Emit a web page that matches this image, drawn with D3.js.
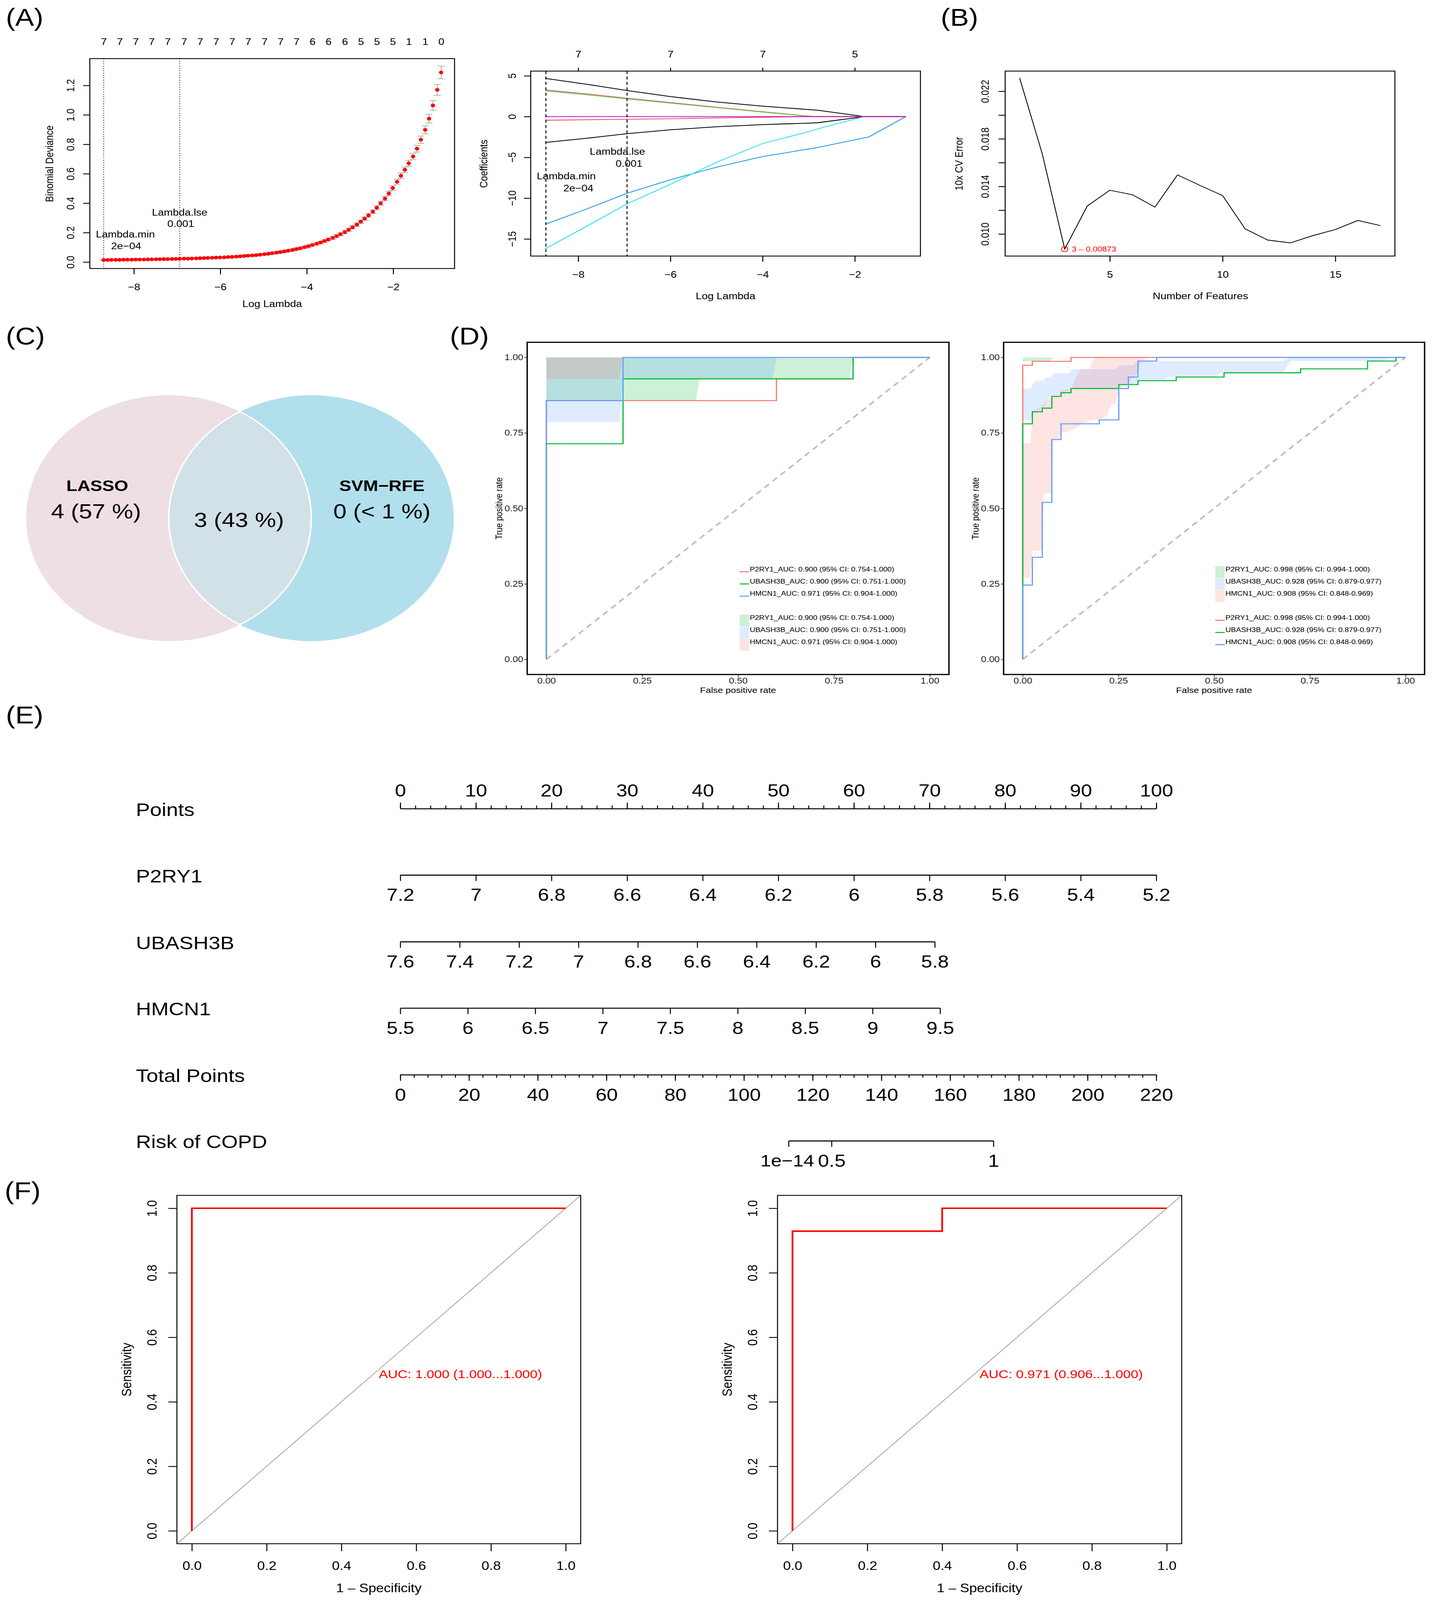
<!DOCTYPE html>
<html>
<head>
<meta charset="utf-8">
<script src="https://cdn.jsdelivr.net/npm/d3@7"></script>
<style>
  html, body { margin: 0; padding: 0; background: #fff; overflow: hidden; }
  svg { display: block; }
</style>
</head>
<body>
<script>
// ---------------- data ----------------
// (A) cv.glmnet curve
const cvLogLambda = [-8.70,-8.61,-8.52,-8.42,-8.33,-8.24,-8.15,-8.05,-7.96,-7.87,-7.77,-7.68,-7.59,-7.49,-7.40,-7.31,-7.22,-7.12,-7.03,-6.94,
  -6.84,-6.75,-6.66,-6.56,-6.47,-6.38,-6.29,-6.19,-6.10,-6.01,-5.91,-5.82,-5.73,-5.63,-5.54,-5.45,-5.36,-5.26,-5.17,-5.08,
  -4.98,-4.89,-4.80,-4.70,-4.61,-4.52,-4.43,-4.33,-4.24,-4.15,-4.05,-3.96,-3.87,-3.77,-3.68,-3.59,-3.50,-3.40,-3.31,-3.22,
  -3.12,-3.03,-2.94,-2.84,-2.75,-2.66,-2.57,-2.47,-2.38,-2.29,-2.19,-2.10,-2.01,-1.91,-1.82,-1.73,-1.64,-1.54,-1.45,-1.36,
  -1.26,-1.17,-1.08,-0.98,-0.89];
const cvDeviance = [0.014,0.014,0.015,0.015,0.015,0.016,0.016,0.016,0.017,0.017,0.017,0.018,0.018,0.019,0.019,0.020,0.020,0.021,0.021,0.022,
  0.023,0.023,0.024,0.025,0.026,0.027,0.028,0.029,0.030,0.031,0.032,0.034,0.035,0.037,0.039,0.041,0.043,0.045,0.047,0.050,
  0.053,0.056,0.060,0.064,0.068,0.072,0.077,0.082,0.088,0.094,0.101,0.108,0.116,0.124,0.133,0.143,0.153,0.164,0.176,0.189,
  0.203,0.219,0.236,0.254,0.274,0.295,0.317,0.342,0.369,0.399,0.431,0.466,0.503,0.545,0.586,0.627,0.671,0.717,0.770,0.831,
  0.898,0.974,1.064,1.170,1.288];
const cvSE = [0.004,0.004,0.004,0.004,0.004,0.004,0.004,0.004,0.004,0.004,0.004,0.004,0.004,0.004,0.004,0.004,0.004,0.004,0.004,0.004,
  0.004,0.004,0.004,0.004,0.004,0.004,0.004,0.004,0.004,0.005,0.005,0.005,0.005,0.005,0.005,0.005,0.006,0.006,0.006,0.006,
  0.006,0.006,0.007,0.007,0.007,0.007,0.007,0.008,0.008,0.008,0.008,0.008,0.009,0.009,0.009,0.009,0.010,0.010,0.010,0.010,
  0.011,0.011,0.011,0.012,0.012,0.012,0.013,0.013,0.014,0.014,0.015,0.015,0.016,0.017,0.018,0.019,0.020,0.021,0.023,0.025,
  0.027,0.030,0.033,0.037,0.043];
const cvNonZero = ["7","7","7","7","7","7","7","7","7","7","7","7","7","6","6","6","5","5","5","1","1","0"];
const lambdaMinLog = -8.70, lambdaLseLog = -6.94;

// (A) coefficient paths
const pathLogLambda = [-8.71, -7.8, -6.94, -6, -5, -4, -3, -2.8, -1.79, -1.7, -0.89];
const coefPaths = [
  { color: "#000000", values: [4.68, 3.95, 3.2, 2.45, 1.8, 1.28, 0.86, 0.78, 0, 0, 0] },
  { color: "#DF536B", values: [3.27, 2.77, 2.25, 1.72, 1.15, 0.6, 0.06, 0, 0, 0, 0] },
  { color: "#61D04F", values: [3.15, 2.67, 2.17, 1.65, 1.1, 0.55, 0.03, 0, 0, 0, 0] },
  { color: "#000000", values: [-3.17, -2.65, -2.1, -1.62, -1.25, -0.98, -0.8, -0.75, 0, 0, 0] },
  { color: "#2297E6", values: [-13.2, -11.3, -9.4, -7.75, -6.2, -4.9, -3.97, -3.78, -2.6, -2.5, 0] },
  { color: "#28E2E5", values: [-16.2, -13.4, -10.7, -8.3, -5.6, -3.3, -1.85, -1.5, 0, 0, 0] },
  { color: "#DF536B", values: [-0.45, -0.38, -0.32, -0.26, -0.17, -0.08, 0, 0, 0, 0, 0] },
  { color: "#CD0BBC", values: [0, 0, 0, 0, 0, 0, 0, 0, 0, 0, 0] }
];
const pathTopTicks = [-8, -6, -4, -2];
const pathTopLabels = ["7", "7", "7", "5"];

// (B) SVM-RFE
const rfeFeatures = [1,2,3,4,5,6,7,8,9,10,11,12,13,14,15,16,17];
const rfeError = [0.02312,0.01677,0.00873,0.01235,0.01368,0.01330,0.01226,0.01497,0.01408,0.01323,0.01043,0.00949,0.00925,0.00986,0.01037,0.01114,0.01070];

// (C) Venn
const vennSets = ["LASSO", "SVM\u2212RFE"];
const vennCounts = ["4 (57 %)", "3 (43 %)", "0 (< 1 %)"];

// (D) ROC with CI
const genes = ["P2RY1", "UBASH3B", "HMCN1"];
const lineColors = ["#F8766D", "#00BA38", "#619CFF"];
const fillColors = ["#00BA38", "#619CFF", "#F8766D"];
const trainLabels = ["P2RY1_AUC: 0.900 (95% CI: 0.754-1.000)", "UBASH3B_AUC: 0.900 (95% CI: 0.751-1.000)", "HMCN1_AUC: 0.971 (95% CI: 0.904-1.000)"];
const testLabels = ["P2RY1_AUC: 0.998 (95% CI: 0.994-1.000)", "UBASH3B_AUC: 0.928 (95% CI: 0.879-0.977)", "HMCN1_AUC: 0.908 (95% CI: 0.848-0.969)"];

const trainRoc = [
  { fpr: [0,0,0.6,0.6,0.8,0.8,1], tpr: [0,0.857,0.857,0.929,0.929,1,1] },
  { fpr: [0,0,0.2,0.2,0.8,0.8,1], tpr: [0,0.714,0.714,0.929,0.929,1,1] },
  { fpr: [0,0,0.2,0.2,1], tpr: [0,0.857,0.857,1,1] }
];
const trainCI = [
  { fpr: [0,0.39,0.40,0.79,0.80,1], lo: [0.857,0.857,0.929,0.929,1,1], hi: [1,1,1,1,1,1] },
  { fpr: [0,0.19,0.20,0.59,0.60,1], lo: [0.786,0.786,0.929,0.929,1,1], hi: [1,1,1,1,1,1] },
  { fpr: [0,0.19,0.20,1], lo: [0.929,0.929,1,1], hi: [1,1,1,1] }
];
const testRoc = [
  { fpr: [0,0,0.025,0.025,0.126,0.126,1], tpr: [0,0.974,0.974,0.987,0.987,1,1] },
  { fpr: [0,0,0.025,0.025,0.051,0.051,0.076,0.076,0.1,0.1,0.126,0.126,0.251,0.251,0.301,0.301,0.401,0.401,0.526,0.526,0.726,0.726,0.901,0.901,0.975,0.975,1],
    tpr: [0,0.78,0.78,0.82,0.82,0.832,0.832,0.871,0.871,0.883,0.883,0.897,0.897,0.91,0.91,0.923,0.923,0.935,0.935,0.949,0.949,0.962,0.962,0.988,0.988,1,1] },
  { fpr: [0,0,0.025,0.025,0.051,0.051,0.076,0.076,0.1,0.1,0.2,0.2,0.251,0.251,0.276,0.276,0.301,0.301,0.35,0.35,1],
    tpr: [0,0.246,0.246,0.338,0.338,0.52,0.52,0.728,0.728,0.78,0.78,0.793,0.793,0.897,0.897,0.935,0.935,0.988,0.988,1,1] }
];
const testCI = [
  { fpr: [0,0.07,0.08,1], lo: [0.987,0.987,1,1], hi: [1,1,1,1] },
  { fpr: [0,0.02,0.032,0.052,0.062,0.072,0.085,0.12,0.13,0.242,0.255,0.29,0.30,0.37,0.38,0.5,0.52,0.68,0.70,0.94,0.96,1],
    lo: [0.793,0.793,0.82,0.832,0.85,0.87,0.875,0.89,0.897,0.897,0.91,0.91,0.923,0.923,0.936,0.936,0.949,0.949,0.988,0.988,1,1],
    hi: [0.897,0.897,0.922,0.922,0.934,0.934,0.948,0.948,0.961,0.961,0.974,0.974,0.988,0.988,0.988,0.988,0.988,0.988,1,1,1,1] },
  { fpr: [0,0.02,0.025,0.05,0.055,0.075,0.08,0.093,0.101,0.12,0.127,0.141,0.151,0.175,0.178,0.19,0.202,0.219,0.232,0.242,0.253,0.273,0.28,0.30,0.31,0.33,1],
    lo: [0.27,0.27,0.36,0.36,0.55,0.55,0.73,0.73,0.754,0.754,0.76,0.767,0.778,0.79,0.793,0.793,0.793,0.806,0.845,0.845,0.897,0.91,0.923,0.948,0.988,1,1],
    hi: [0.715,0.715,0.82,0.84,0.845,0.87,0.872,0.88,0.89,0.895,0.897,0.94,0.961,0.961,0.975,1,1,1,1,1,1,1,1,1,1,1,1] }
];

// (E) nomogram
const nomoPointTicks = [0,10,20,30,40,50,60,70,80,90,100];
const nomoPointMinor = [0,2,4,6,8,10,12,14,16,18,20,22,24,26,28,30,32,34,36,38,40,42,44,46,48,50,52,54,56,58,60,62,64,66,68,70,72,74,76,78,80,82,84,86,88,90,92,94,96,98,100];
const nomoVars = [
  { name: "P2RY1",   range: [7.2, 5.2], maxPoints: 100,  ticks: [7.2,7,6.8,6.6,6.4,6.2,6,5.8,5.6,5.4,5.2] },
  { name: "UBASH3B", range: [7.6, 5.8], maxPoints: 70.7, ticks: [7.6,7.4,7.2,7,6.8,6.6,6.4,6.2,6,5.8] },
  { name: "HMCN1",   range: [5.5, 9.5], maxPoints: 71.4, ticks: [5.5,6,6.5,7,7.5,8,8.5,9,9.5] }
];
const totalTicks = [0,20,40,60,80,100,120,140,160,180,200,220];
const totalMinor = [0,4,8,12,16,20,24,28,32,36,40,44,48,52,56,60,64,68,72,76,80,84,88,92,96,100,104,108,112,116,120,124,128,132,136,140,144,148,152,156,160,164,168,172,176,180,184,188,192,196,200,204,208,212,216,220];
const riskLabels = ["1e\u221214", "0.5", "1"];
const riskTotalPoints = [113, 125.5, 172.6];

// (F) final ROC
const finalRoc = [
  { fpr: [0,0,1], tpr: [0,1,1], label: "AUC: 1.000 (1.000...1.000)" },
  { fpr: [0,0,0.4,0.4,1], tpr: [0,0.929,0.929,1,1], label: "AUC: 0.971 (0.906...1.000)" }
];

// ---------------- drawing ----------------
const FONT = '"Liberation Sans", Arial, Helvetica, sans-serif';
const W = 3667, H = 4749;
// the capture viewport can be shorter than the figure: fit the whole figure into it
const VW = window.innerWidth || W, VH = window.innerHeight || H;

const svg = d3.select("body").append("svg")
  .attr("width", VW).attr("height", VH)
  .attr("viewBox", `0 0 ${W} ${H}`)
  .attr("preserveAspectRatio", "none")
  .attr("font-family", FONT);
svg.append("rect").attr("width", W).attr("height", H).attr("fill", "#fff");

function txt(g, x, y, s, fs, o = {}) {
  return g.append("text")
    .attr("x", x).attr("y", y).attr("dy", o.dy || "0.35em")
    .attr("font-size", fs)
    .attr("text-anchor", o.anchor || "middle")
    .attr("font-weight", o.weight || null)
    .attr("fill", o.fill || "#000")
    .attr("transform", o.rotate ? `rotate(-90,${x},${y})` : null)
    .text(s);
}

function box(g, x0, y0, x1, y1, sw = 2.5, col = "#000") {
  g.append("rect").attr("x", x0).attr("y", y0).attr("width", x1 - x0).attr("height", y1 - y0)
    .attr("fill", "none").attr("stroke", col).attr("stroke-width", sw);
}

// base-R like axes
function rAxisBottom(g, scale, ticks, y, fs, fmt, labelOff, tl = 17) {
  const ax = g.append("g").attr("transform", `translate(0,${y})`)
    .call(d3.axisBottom(scale).tickValues(ticks).tickSize(tl).tickSizeOuter(0)
      .tickPadding(labelOff - tl - 0.35 * fs).tickFormat(fmt));
  ax.select(".domain").remove();
  ax.selectAll(".tick line").attr("stroke", "#000").attr("stroke-width", 2.5);
  ax.selectAll(".tick text").attr("font-size", fs).attr("font-family", FONT).attr("fill", "#000");
  return ax;
}
function rAxisLeft(g, scale, ticks, x, fs, fmt, labelOff, tl = 17) {
  const ax = g.append("g").attr("transform", `translate(${x},0)`)
    .call(d3.axisLeft(scale).tickValues(ticks).tickSize(tl).tickSizeOuter(0).tickFormat(fmt));
  ax.select(".domain").remove();
  ax.selectAll(".tick line").attr("stroke", "#000").attr("stroke-width", 2.5);
  ax.selectAll(".tick text")
    .attr("x", null).attr("dy", null).attr("text-anchor", "middle")
    .attr("transform", `translate(${-labelOff + 0.35 * fs},0) rotate(-90)`)
    .attr("font-size", fs).attr("font-family", FONT).attr("fill", "#000");
  return ax;
}

// panel letters
[["(A)", 15, 76], ["(B)", 2409, 76], ["(C)", 15, 1023], ["(D)", 1152, 1023], ["(E)", 15, 2147], ["(F)", 12, 3560]]
  .forEach(([s, x, y]) => txt(svg, x, y, s, 72, { anchor: "start", dy: "0" }));

// ===== (A) left: cross-validation curve =====
{
  const g = svg.append("g");
  const x = d3.scaleLinear().domain([-9.02, -0.58]).range([230, 1164]);
  const y = d3.scaleLinear().domain([-0.044, 1.382]).range([797, 174]);
  const fs = 27.5;

  rAxisBottom(g, x, [-8, -6, -4, -2], 797, fs, d3.format("d"), 54);
  rAxisLeft(g, y, [0, 0.2, 0.4, 0.6, 0.8, 1.0, 1.2], 230, fs, d3.format(".1f"), 50);

  // number of nonzero coefficients along the top
  const topPos = cvNonZero.map((d, i) => cvLogLambda[i * 4]);
  const top = g.append("g").attr("transform", "translate(0,174)")
    .call(d3.axisTop(x).tickValues(topPos).tickSize(0).tickPadding(174 - 123 - 0.36 * fs)
      .tickFormat((d, i) => cvNonZero[i]));
  top.select(".domain").remove();
  top.selectAll("text").attr("font-size", fs).attr("font-family", FONT).attr("fill", "#000");

  [lambdaMinLog, lambdaLseLog].forEach(v => {
    g.append("line").attr("x1", x(v)).attr("x2", x(v)).attr("y1", 174).attr("y2", 797)
      .attr("stroke", "#000").attr("stroke-width", 2.2).attr("stroke-dasharray", "2,5");
  });

  const pts = cvLogLambda.map((l, i) => ({ l, d: cvDeviance[i], se: cvSE[i] }));
  const eb = g.append("g").attr("stroke", "#A9A9A9").attr("stroke-width", 2);
  pts.forEach(p => {
    const xx = x(p.l);
    eb.append("line").attr("x1", xx).attr("x2", xx).attr("y1", y(p.d - p.se)).attr("y2", y(p.d + p.se));
    eb.append("line").attr("x1", xx - 9).attr("x2", xx + 9).attr("y1", y(p.d - p.se)).attr("y2", y(p.d - p.se));
    eb.append("line").attr("x1", xx - 9).attr("x2", xx + 9).attr("y1", y(p.d + p.se)).attr("y2", y(p.d + p.se));
  });
  g.append("g").selectAll("circle").data(pts).join("circle")
    .attr("cx", d => x(d.l)).attr("cy", d => y(d.d)).attr("r", 5.5).attr("fill", "#FF0000");

  txt(g, 321, 695, "Lambda.min", fs);
  txt(g, 323, 730, "2e\u221204", fs);
  txt(g, 460, 630, "Lambda.lse", fs);
  txt(g, 463, 664, "0.001", fs);

  box(g, 230, 174, 1164, 797);
  txt(g, 697, 902, "Log Lambda", fs);
  txt(g, 126, 486, "Binomial Deviance", fs, { rotate: true });
}

// ===== (A) middle: coefficient paths =====
{
  const g = svg.append("g");
  const x = d3.scaleLinear().domain([-9.03, -0.576]).range([1359, 2357]);
  const y = d3.scaleLinear().domain([-17.1, 5.58]).range([760, 211]);
  const fs = 27.5;

  rAxisBottom(g, x, [-8, -6, -4, -2], 760, fs, d3.format("d"), 54);
  rAxisLeft(g, y, [-15, -10, -5, 0, 5], 1359, fs, d3.format("d"), 48);

  const top = g.append("g").attr("transform", "translate(0,211)")
    .call(d3.axisTop(x).tickValues(pathTopTicks).tickSize(10).tickSizeOuter(0)
      .tickPadding(211 - 161 - 0.36 * fs - 10).tickFormat((d, i) => pathTopLabels[i]));
  top.select(".domain").remove();
  top.selectAll("line").attr("stroke", "#000").attr("stroke-width", 2.5);
  top.selectAll("text").attr("font-size", fs).attr("font-family", FONT).attr("fill", "#000");

  const line = d3.line().x((d, i) => x(pathLogLambda[i])).y(d => y(d));
  g.append("g").selectAll("path").data(coefPaths).join("path")
    .attr("d", d => line(d.values)).attr("fill", "none")
    .attr("stroke", d => d.color).attr("stroke-width", 2.4);

  [lambdaMinLog, lambdaLseLog].forEach(v => {
    g.append("line").attr("x1", x(v)).attr("x2", x(v)).attr("y1", 211).attr("y2", 760)
      .attr("stroke", "#000").attr("stroke-width", 2.4).attr("stroke-dasharray", "9,7");
  });

  txt(g, 1581, 450, "Lambda.lse", fs);
  txt(g, 1611, 486, "0.001", fs);
  txt(g, 1450, 523, "Lambda.min", fs);
  txt(g, 1481, 558, "2e\u221204", fs);

  box(g, 1359, 211, 2357, 760);
  txt(g, 1858, 878, "Log Lambda", fs);
  txt(g, 1238, 486, "Coefficients", fs, { rotate: true });
}

// ===== (B) SVM-RFE error =====
{
  const g = svg.append("g");
  const x = d3.scaleLinear().domain([0.36, 17.64]).range([2574, 3572]);
  const y = d3.scaleLinear().domain([0.008144, 0.023696]).range([760, 211]);
  const fs = 27.5;
  const labelled = [0.010, 0.014, 0.018, 0.022];

  rAxisBottom(g, x, [5, 10, 15], 760, fs, d3.format("d"), 54);
  rAxisLeft(g, y, [0.010, 0.012, 0.014, 0.016, 0.018, 0.020, 0.022], 2574, fs,
    d => labelled.some(v => Math.abs(v - d) < 1e-9) ? d3.format(".3f")(d) : "", 52);

  g.append("path").datum(rfeFeatures)
    .attr("d", d3.line().x(d => x(d)).y((d, i) => y(rfeError[i])))
    .attr("fill", "none").attr("stroke", "#000").attr("stroke-width", 2.2);

  const iMin = d3.minIndex(rfeError);
  g.append("circle").attr("cx", x(rfeFeatures[iMin])).attr("cy", y(rfeError[iMin])).attr("r", 8)
    .attr("fill", "none").attr("stroke", "#FF0000").attr("stroke-width", 2);
  txt(g, x(rfeFeatures[iMin]) + 18, y(rfeError[iMin]), `${rfeFeatures[iMin]} \u2013 ${rfeError[iMin]}`, 21.6,
    { anchor: "start", fill: "#FF0000" });

  box(g, 2574, 211, 3572, 760);
  txt(g, 3074, 878, "Number of Features", fs);
  txt(g, 2455, 486, "10x CV Error", fs, { rotate: true });
}

// ===== (C) Venn =====
{
  const g = svg.append("g");
  const r = 365, cy = 1538, cxL = 432, cxR = 797;
  const defs = svg.append("defs");
  defs.append("clipPath").attr("id", "clipL").append("circle").attr("cx", cxL).attr("cy", cy).attr("r", r);
  defs.append("clipPath").attr("id", "clipR").append("circle").attr("cx", cxR).attr("cy", cy).attr("r", r);

  g.append("circle").attr("cx", cxL).attr("cy", cy).attr("r", r).attr("fill", "#EDDFE4");
  g.append("circle").attr("cx", cxR).attr("cy", cy).attr("r", r).attr("fill", "#B2DFEC");
  g.append("circle").attr("cx", cxR).attr("cy", cy).attr("r", r).attr("fill", "#D2E0E8").attr("clip-path", "url(#clipL)");
  g.append("circle").attr("cx", cxR).attr("cy", cy).attr("r", r).attr("fill", "none")
    .attr("stroke", "#fff").attr("stroke-width", 4).attr("clip-path", "url(#clipL)");
  g.append("circle").attr("cx", cxL).attr("cy", cy).attr("r", r).attr("fill", "none")
    .attr("stroke", "#fff").attr("stroke-width", 4).attr("clip-path", "url(#clipR)");

  txt(g, 249, 1441, vennSets[0], 46, { weight: "bold" });
  txt(g, 246, 1517, vennCounts[0], 61);
  txt(g, 612, 1543, vennCounts[1], 61);
  txt(g, 978, 1441, vennSets[1], 46, { weight: "bold" });
  txt(g, 978, 1517, vennCounts[2], 61);
}

// ===== (D) ROC panels with CI ribbons =====
function rocPanel(x0, x1, rocs, cis, labels, fillsFirst, legendX) {
  const g = svg.append("g");
  const y0 = 2002, y1 = 1016;
  const x = d3.scaleLinear().domain([-0.05, 1.05]).range([x0, x1]);
  const y = d3.scaleLinear().domain([-0.05, 1.05]).range([y0, y1]);
  const fs = 24.6, col = "#333";

  const area = d3.area().x(d => x(d.f)).y0(d => y(d.lo)).y1(d => y(d.hi));
  cis.forEach((c, i) => {
    const pts = c.fpr.map((f, k) => ({ f, lo: c.lo[k], hi: c.hi[k] }));
    g.append("path").attr("d", area(pts)).attr("fill", fillColors[i]).attr("fill-opacity", 0.2);
  });

  g.append("line").attr("x1", x(0)).attr("y1", y(0)).attr("x2", x(1)).attr("y2", y(1))
    .attr("stroke", "#BEBEBE").attr("stroke-width", 4.5).attr("stroke-dasharray", "16,12");

  const line = d3.line().x(d => x(d[0])).y(d => y(d[1]));
  rocs.forEach((r, i) => {
    g.append("path").attr("d", line(r.fpr.map((f, k) => [f, r.tpr[k]])))
      .attr("fill", "none").attr("stroke", lineColors[i]).attr("stroke-width", 3);
  });

  // legend
  const rowH = 36.2;
  const lineTop = fillsFirst ? 1833 : 1689;
  const fillTop = fillsFirst ? 1689 : 1833;
  labels.forEach((s, i) => {
    const ly = lineTop + i * rowH;
    g.append("line").attr("x1", legendX).attr("x2", legendX + 24).attr("y1", ly + 8).attr("y2", ly + 8)
      .attr("stroke", lineColors[i]).attr("stroke-width", 3);
    txt(g, legendX + 26, ly, s, 19.5, { anchor: "start" });
    const fy = fillTop + i * rowH;
    g.append("rect").attr("x", legendX).attr("y", fy - 9).attr("width", 24).attr("height", rowH - 1)
      .attr("fill", fillColors[i]).attr("fill-opacity", 0.2);
    txt(g, legendX + 26, fy, s, 19.5, { anchor: "start" });
  });

  const ticks = [0, 0.25, 0.5, 0.75, 1];
  const ax = g.append("g").attr("transform", `translate(0,${y0})`)
    .call(d3.axisBottom(x).tickValues(ticks).tickSize(7).tickSizeOuter(0).tickPadding(3).tickFormat(d3.format(".2f")));
  const ay = g.append("g").attr("transform", `translate(${x0},0)`)
    .call(d3.axisLeft(y).tickValues(ticks).tickSize(7).tickSizeOuter(0).tickPadding(3).tickFormat(d3.format(".2f")));
  [ax, ay].forEach(a => {
    a.select(".domain").remove();
    a.selectAll("line").attr("stroke", col).attr("stroke-width", 2);
    a.selectAll("text").attr("font-size", fs).attr("font-family", FONT).attr("fill", "#222");
  });

  box(g, x0, y1, x1, y0, 3.5, "#000");
  txt(g, (x(0) + x(1)) / 2, 2048, "False positive rate", 24);
  txt(g, x0 - 72, (y0 + y1) / 2, "True positive rate", 24, { rotate: true });
}
rocPanel(1350, 2430, trainRoc, trainCI, trainLabels, false, 1894);
rocPanel(2570, 3648, testRoc, testCI, testLabels, true, 3112);

// ===== (E) nomogram =====
{
  const g = svg.append("g");
  const pts = d3.scaleLinear().domain([0, 100]).range([1025, 2961]);
  const total = d3.scaleLinear().domain([0, 220]).range([1025, 2961]);
  const lfs = 54, tfs = 51;
  const rows = [2400, 2597, 2795, 2992, 3190, 3386];

  function nomoAxis(y, scale, ticks, minor, fmt, up) {
    const mk = up ? d3.axisTop : d3.axisBottom;
    if (minor) {
      const m = g.append("g").attr("transform", `translate(0,${y})`)
        .call(mk(scale).tickValues(minor).tickSize(9).tickSizeOuter(0).tickFormat(""));
      m.select(".domain").remove();
      m.selectAll("line").attr("stroke", "#000").attr("stroke-width", 2.5);
    }
    const a = g.append("g").attr("transform", `translate(0,${y})`)
      .call(mk(scale).tickValues(ticks).tickSize(18).tickSizeOuter(0).tickPadding(up ? 18 : 23).tickFormat(fmt));
    a.select(".domain").attr("stroke", "#000").attr("stroke-width", 3);
    a.selectAll("line").attr("stroke", "#000").attr("stroke-width", 2.5);
    a.selectAll("text").attr("font-size", tfs).attr("font-family", FONT).attr("fill", "#000");
  }

  txt(g, 348, rows[0] + 3, "Points", lfs, { anchor: "start" });
  nomoAxis(rows[0], pts, nomoPointTicks, nomoPointMinor, d3.format("d"), true);

  nomoVars.forEach((v, i) => {
    const s = d3.scaleLinear().domain(v.range).range([pts(0), pts(v.maxPoints)]);
    txt(g, 348, rows[i + 1] + 3, v.name, lfs, { anchor: "start" });
    nomoAxis(rows[i + 1], s, v.ticks, null, d3.format("~g"), false);
  });

  txt(g, 348, rows[4] + 3, "Total Points", lfs, { anchor: "start" });
  nomoAxis(rows[4], total, totalTicks, totalMinor, d3.format("d"), false);

  const risk = d3.scaleLinear().domain([riskTotalPoints[0], riskTotalPoints[2]])
    .range([total(riskTotalPoints[0]), total(riskTotalPoints[2])]);
  txt(g, 348, rows[5] + 3, "Risk of COPD", lfs, { anchor: "start" });
  nomoAxis(rows[5], risk, riskTotalPoints, null, (d, i) => riskLabels[i], false);
  g.selectAll("text").filter(function () { return this.textContent === riskLabels[0]; })
    .attr("font-size", 49).attr("dx", -4);
}

// ===== (F) final ROC curves =====
function finalPanel(x0, x1, roc) {
  const g = svg.append("g");
  const y0 = 4582, y1 = 3548;
  const x = d3.scaleLinear().domain([-0.04, 1.04]).range([x0, x1]);
  const y = d3.scaleLinear().domain([-0.04, 1.04]).range([y0, y1]);
  const fs = 35.5;
  const ticks = [0, 0.2, 0.4, 0.6, 0.8, 1.0];

  rAxisBottom(g, x, ticks, y0, fs, d3.format(".1f"), 65, 22);
  rAxisLeft(g, y, ticks, x0, fs, d3.format(".1f"), 64, 22);

  g.append("line").attr("x1", x(-0.04)).attr("y1", y(-0.04)).attr("x2", x(1.04)).attr("y2", y(1.04))
    .attr("stroke", "#9E9E9E").attr("stroke-width", 2);

  g.append("path").attr("d", d3.line().x(d => x(d[0])).y(d => y(d[1]))(roc.fpr.map((f, k) => [f, roc.tpr[k]])))
    .attr("fill", "none").attr("stroke", "#FF0000").attr("stroke-width", 4.5);

  txt(g, x(0.5), y(0.5), roc.label, 35, { anchor: "start", fill: "#FF0000", dy: "0.72em" });

  box(g, x0, y1, x1, y0);
  txt(g, (x(0) + x(1)) / 2, 4713, "1 \u2013 Specificity", fs);
  txt(g, x0 - 129, (y0 + y1) / 2, "Sensitivity", fs, { rotate: true });
}
finalPanel(453, 1487, finalRoc[0]);
finalPanel(1991, 3026, finalRoc[1]);
</script>
</body>
</html>
